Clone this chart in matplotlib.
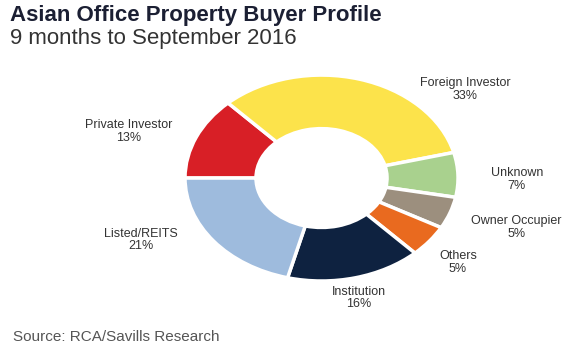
import matplotlib
matplotlib.use("Agg")
import matplotlib.pyplot as plt

# Buyer groups, clockwise from the 9 o'clock position
buyers = ["Private Investor", "Foreign Investor", "Unknown", "Owner Occupier",
          "Others", "Institution", "Listed/REITS"]
shares = [13, 33, 7, 5, 5, 16, 21]
colors = ["#D81F26", "#FCE34B", "#A9D18E", "#9C8F7E", "#E96A1F", "#0E2240", "#9EBBDD"]

# label block centres in pie data units (manual layout, as in the source chart)
label_pos = {
    "Private Investor": (-1.41, 0.45),
    "Foreign Investor": (1.05, 0.86),
    "Unknown": (1.43, -0.015),
    "Owner Occupier": (1.43, -0.48),
    "Others": (1.00, -0.82),
    "Institution": (0.275, -1.165),
    "Listed/REITS": (-1.32, -0.60),
}

plt.rcParams["font.family"] = ["Liberation Sans", "DejaVu Sans"]

fig = plt.figure(figsize=(5.8, 3.52), dpi=100)
ax = fig.add_axes([0.319, 0.2017, 0.4707, 0.585])
ax.pie(shares, colors=colors, startangle=180, counterclock=False, radius=1,
       wedgeprops=dict(width=0.52, edgecolor="white", linewidth=2.5))
ax.set_aspect("auto")
ax.set_xlim(-1, 1)
ax.set_ylim(-1, 1)
ax.axis("off")

for name, val in zip(buyers, shares):
    x, y = label_pos[name]
    ax.text(x, y, f"{name}\n{val}%", ha="center", va="center", fontsize=9,
            color="#333333", linespacing=1.05, clip_on=False)

fig.text(10 / 580, 1 - 21 / 352, "Asian Office Property Buyer Profile",
         fontsize=16, fontweight="bold", color="#1B1F33", va="baseline")
fig.text(10 / 580, 1 - 44 / 352, "9 months to September 2016",
         fontsize=16, color="#333333", va="baseline")
fig.text(13 / 580, 1 - 337 / 352, "Source: RCA/Savills Research",
         fontsize=11, color="#555555", va="center")

fig.savefig("out.png", dpi=100, facecolor="white")
